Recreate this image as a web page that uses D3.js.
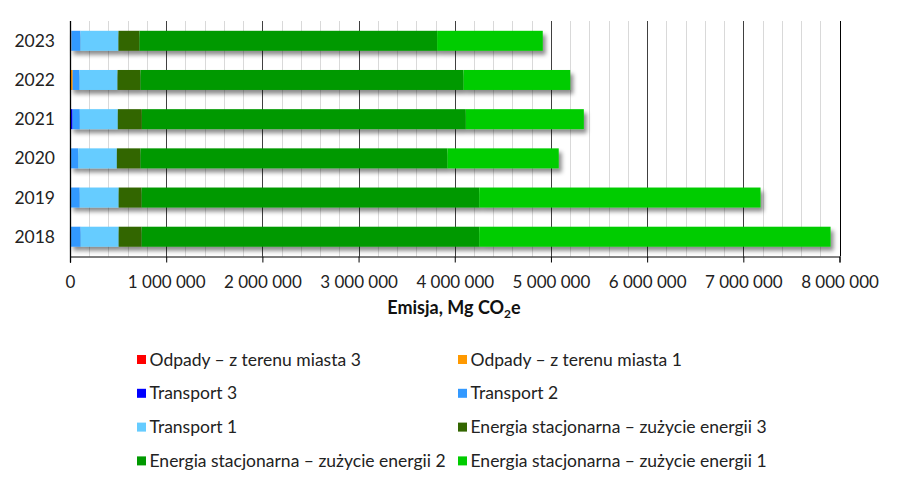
<!DOCTYPE html>
<html><head><meta charset="utf-8">
<script src="https://cdn.jsdelivr.net/npm/d3@7"></script>
<style>body{margin:0;background:#fff;} text{font-family:Lato,"Open Sans",sans-serif;}</style>
</head><body>
<svg id="c" width="900" height="486"></svg>
<script>
const years = ["2018","2019","2020","2021","2022","2023"];
const seriesNames = ["Odpady – z terenu miasta 3","Odpady – z terenu miasta 1","Transport 3","Transport 2","Transport 1","Energia stacjonarna – zużycie energii 3","Energia stacjonarna – zużycie energii 2","Energia stacjonarna – zużycie energii 1"];
const seriesColors = ["#FF0000","#FF9900","#0000FF","#3399FF","#66CCFF","#336600","#009900","#00CC00"];
const odpady3 = [5000,5000,5000,5000,3000,5000];
const odpady1 = [5000,5000,5000,2000,25000,8000];
const transport3 = [1000,1000,1000,20000,1000,1000];
const transport2 = [100000,90000,75000,75000,70000,95000];
const transport1 = [395000,405000,401000,395000,395000,395000];
const energia3 = [239000,239000,246000,250000,239000,218000];
const energia2 = [3510000,3510000,3191000,3368000,3358000,3095000];
const energia1 = [3652000,2924000,1157000,1227000,1109000,1098000];
const xTicks = [0,1000000,2000000,3000000,4000000,5000000,6000000,7000000,8000000];
const axisTitle = "Emisja, Mg CO";

const seriesValues = [odpady3,odpady1,transport3,transport2,transport1,energia3,energia2,energia1];
const rows = years.map((y,i)=>{const o={year:y}; seriesNames.forEach((n,k)=>o[n]=seriesValues[k][i]); return o;});
const stacked = d3.stack().keys(seriesNames)(rows);

const svg = d3.select("#c");
const m = {l:70,r:839.5,t:21,b:256.5};
const x = d3.scaleLinear().domain([0,8000000]).range([m.l,m.r]);
const y = d3.scaleBand().domain(years.slice().reverse()).range([m.t,m.b]).paddingInner(0.49).paddingOuter(0.25);

const defs = svg.append("defs");
const f = defs.append("filter").attr("id","sh").attr("x","-5%").attr("y","-50%").attr("width","115%").attr("height","220%");
f.append("feDropShadow").attr("dx",3).attr("dy",4).attr("stdDeviation",2).attr("flood-color","#000").attr("flood-opacity",0.45);

// minor grid
const minor = d3.range(200000,8000001,200000).filter(v=>v%1000000!==0);
svg.append("g").selectAll("line").data(minor).join("line")
  .attr("x1",d=>Math.round(x(d))+0.5).attr("x2",d=>Math.round(x(d))+0.5)
  .attr("y1",m.t).attr("y2",m.b).attr("stroke","#d9d9d9").attr("stroke-width",1);
// major grid
svg.append("g").selectAll("line").data(xTicks.slice(1)).join("line")
  .attr("x1",d=>Math.round(x(d))+0.5).attr("x2",d=>Math.round(x(d))+0.5)
  .attr("y1",m.t).attr("y2",m.b).attr("stroke",(d)=>d===8000000?"#000":"#404040").attr("stroke-width",1);

// bars
const gBars = svg.append("g");
years.forEach((yr,i)=>{
  const g = gBars.append("g").attr("filter","url(#sh)");
  stacked.forEach((s,k)=>{
    const d = s[i];
    g.append("rect").attr("x",x(d[0])).attr("width",Math.max(0,x(d[1])-x(d[0])))
      .attr("y",y(yr)).attr("height",y.bandwidth()).attr("fill",seriesColors[k]);
  });
});

// x axis
const xa = svg.append("g").attr("transform",`translate(0,${m.b})`)
  .call(d3.axisBottom(x).tickValues(xTicks).tickSize(6).tickFormat(d=>d3.format(",")(d).replace(/,/g," ")));
xa.select(".domain").attr("stroke","#000");
xa.selectAll(".tick line").attr("stroke","#000");
xa.selectAll("text").attr("font-size",17).attr("fill","#222").attr("dy","1.3em");
// y axis line
svg.append("line").attr("x1",m.l+0.5).attr("x2",m.l+0.5).attr("y1",m.t).attr("y2",m.b+6).attr("stroke","#000").attr("stroke-width",1.3);
svg.append("g").selectAll("text").data(years).join("text")
  .attr("x",55).attr("y",d=>y(d)+y.bandwidth()/2).attr("dy","0.35em").attr("text-anchor","end")
  .attr("font-size",17.5).attr("fill","#222").text(d=>d);

// title
const t = svg.append("text").attr("x",454).attr("y",314).attr("text-anchor","middle")
  .attr("font-size",18).attr("font-weight","bold").attr("fill","#111");
t.append("tspan").text(axisTitle);
t.append("tspan").attr("font-size",12).attr("dy",4).text("2");
t.append("tspan").attr("dy",-4).text("e");

// legend
const lg = svg.append("g");
seriesNames.forEach((n,k)=>{
  const col = k%2, row = Math.floor(k/2);
  const lx = col===0?137:458, ly = 359.5+row*33.8;
  lg.append("rect").attr("x",lx).attr("y",ly-4.5).attr("width",9).attr("height",9).attr("fill",seriesColors[k]);
  lg.append("text").attr("x",lx+12.5).attr("y",ly).attr("dy","0.35em").attr("font-size",17.5).attr("fill","#222").text(n);
});
</script>
</body></html>
